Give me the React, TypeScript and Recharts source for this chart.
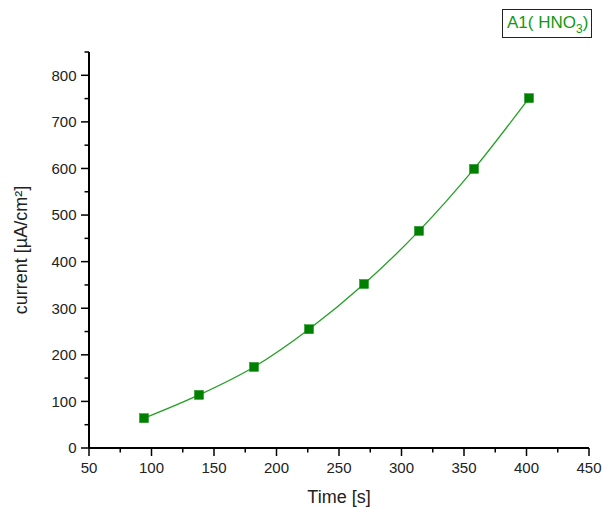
import React from "react";
import { LineChart, Line, XAxis, YAxis } from "recharts";

const times = [94, 138, 182, 226, 270, 314, 358, 402];
const currents = [64, 114, 174, 255, 352, 466, 599, 751];

const xTicks = [50, 75, 100, 125, 150, 175, 200, 225, 250, 275, 300, 325, 350, 375, 400, 425, 450];
const yTicks = [0, 50, 100, 150, 200, 250, 300, 350, 400, 450, 500, 550, 600, 650, 700, 750, 800, 850];

const data = times.map((t, i) => ({ time: t, current: currents[i] }));

const FONT = "'Liberation Sans', Arial, sans-serif";
const MARKER = "#008000";
const LINE = "#22a022";

function XTick(props: any) {
  const { x, y, payload } = props;
  const major = payload.value % 50 === 0;
  return (
    <g>
      <line x1={x} x2={x} y1={y} y2={y + (major ? 8 : 4.5)} stroke="#000" strokeWidth={1.5} />
      {major && (
        <text x={x} y={y + 24.5} textAnchor="middle" fontSize={15} fontFamily={FONT} fill="#222">
          {payload.value}
        </text>
      )}
    </g>
  );
}

function YTick(props: any) {
  const { x, y, payload } = props;
  const major = payload.value % 100 === 0;
  return (
    <g>
      <line x1={x} x2={x - (major ? 8 : 4.5)} y1={y} y2={y} stroke="#000" strokeWidth={1.5} />
      {major && (
        <text x={x - 12.5} y={y + 5.4} textAnchor="end" fontSize={15} fontFamily={FONT} fill="#222">
          {payload.value}
        </text>
      )}
    </g>
  );
}

function SquareDot(props: any) {
  const { cx, cy } = props;
  if (cx == null || cy == null) return null;
  return <rect x={cx - 4.5} y={cy - 4.5} width={9} height={9} fill={MARKER} stroke="#1a8f1a" strokeWidth={0.5} />;
}

export default function App() {
  return (
    <div style={{ width: 603, height: 508, position: "relative", background: "#fff" }}>
      <style>{"body{margin:0}"}</style>
      <LineChart width={603} height={508} data={data} margin={{ top: 52, right: 14, bottom: 0, left: 0 }}>
        <XAxis
          dataKey="time"
          type="number"
          domain={[50, 450]}
          ticks={xTicks}
          interval={0}
          tickSize={0}
          tickMargin={0}
          tickLine={false}
          tick={(p: any) => <XTick {...p} />}
          axisLine={{ stroke: "#000", strokeWidth: 2 }}
          height={60}
          label={{ value: "Time [s]", position: "insideBottom", offset: 5, fontSize: 18, fontFamily: FONT, fill: "#222" }}
        />
        <YAxis
          dataKey="current"
          type="number"
          domain={[0, 850]}
          ticks={yTicks}
          interval={0}
          tickSize={0}
          tickMargin={0}
          tickLine={false}
          tick={(p: any) => <YTick {...p} />}
          axisLine={{ stroke: "#000", strokeWidth: 2 }}
          width={89}
          label={{
            value: "current [µA/cm²]",
            angle: -90,
            position: "insideLeft",
            offset: 21,
            style: { textAnchor: "middle" },
            fontSize: 18,
            fontFamily: FONT,
            fill: "#222",
          }}
        />
        <Line
          type="monotone"
          dataKey="current"
          stroke={LINE}
          strokeWidth={1.3}
          dot={(p: any) => <SquareDot key={p.index} {...p} />}
          activeDot={false}
          isAnimationActive={false}
        />
      </LineChart>
      <div
        style={{
          position: "absolute",
          top: 9,
          left: 502,
          border: "1px solid #222",
          color: "#119911",
          fontFamily: FONT,
          fontSize: 17,
          padding: "3px 3px 5px 4px",
          background: "#fff",
          whiteSpace: "nowrap",
          lineHeight: "19px",
        }}
      >
        A1( HNO<sub style={{ fontSize: 12, verticalAlign: -5, lineHeight: 0 }}>3</sub>)
      </div>
    </div>
  );
}
